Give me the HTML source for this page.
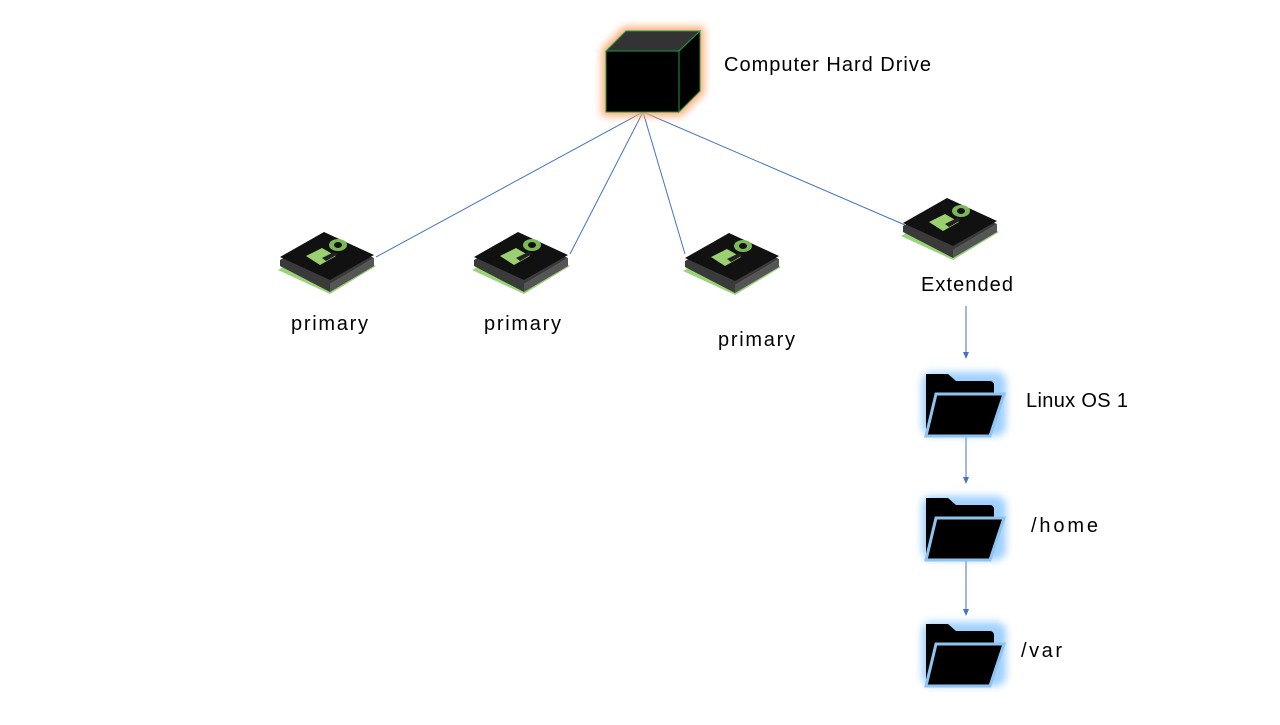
<!DOCTYPE html>
<html><head><style>
body{margin:0;width:1280px;height:720px;background:#fff;overflow:hidden}
text{font-family:"Liberation Sans",sans-serif;font-size:20px;fill:#000}
</style></head><body>
<svg width="1280" height="720" viewBox="0 0 1280 720">
<defs>
<filter id="og" x="-30%" y="-30%" width="160%" height="160%"><feGaussianBlur stdDeviation="4"/></filter>
<filter id="bg" x="-30%" y="-30%" width="160%" height="160%"><feGaussianBlur stdDeviation="4"/></filter>
<g id="chip">
<polygon points="-50,2 -4,-24 48,-2 2,26" fill="#8fcf6a" transform="translate(0,8)" opacity="0.9"/>
<polygon points="-48,0 -4,-24 46,-2 2,24 2,32 -48,6" fill="#3a3a3a"/>
<polygon points="2,24 46,-2 46,6 2,32" fill="#555"/>
<polygon points="-48,-3 -4,-28 46,-5 2,20" fill="#111"/>
<polygon points="-22,-4 -6,-12 8,-4 -8,5" fill="#9ad070"/>
<polygon points="-6,-2 6,-8 10,-6 -2,1" fill="#222"/>
<ellipse cx="10" cy="-15" rx="9" ry="6" fill="#7ab85a"/>
<ellipse cx="10" cy="-15" rx="4" ry="3" fill="#111"/>
</g>
<g id="folder">
<rect x="-40" y="-28" width="84" height="64" rx="10" fill="#9fd0ff" filter="url(#bg)"/>
<path d="M-36,-26 h22 l8,7 h34 a4,4 0 0 1 4,4 v44 h-68 z" fill="#000"/>
<path d="M-26,-6 h68 l-14,42 h-64 z" fill="#000" stroke="#8fc4f0" stroke-width="3"/>
</g>
<marker id="ar" markerWidth="8" markerHeight="8" refX="6" refY="4" orient="auto"><path d="M0,1 L7,4 L0,7 z" fill="#4472c4"/></marker>
</defs>
<g stroke="#4472c4" stroke-width="1" fill="none">
<line x1="643" y1="112" x2="376" y2="257"/>
<line x1="643" y1="112" x2="570" y2="254"/>
<line x1="643" y1="112" x2="685" y2="254"/>
<line x1="643" y1="112" x2="905" y2="225"/>
<line x1="966" y1="306" x2="966" y2="358" marker-end="url(#ar)"/>
<line x1="966" y1="436" x2="966" y2="483" marker-end="url(#ar)"/>
<line x1="966" y1="560" x2="966" y2="615" marker-end="url(#ar)"/>
</g>
<g>
<polygon points="602,49 624,27 704,27 704,93 681,116 602,116" fill="#ffa870" filter="url(#og)"/>
<polygon points="606,51 626,31 700,31 679,51" fill="#333" stroke="#1a9a4a" stroke-width="1"/>
<polygon points="679,51 700,31 700,91 679,112" fill="#000" stroke="#1a9a4a" stroke-width="1"/>
<rect x="606" y="51" width="73" height="61" fill="#000" stroke="#1a9a4a" stroke-width="1"/>
</g>
<use href="#chip" x="328" y="260"/>
<use href="#chip" x="522" y="260"/>
<use href="#chip" x="733" y="261"/>
<use href="#chip" x="951" y="226"/>
<use href="#folder" x="962" y="400"/>
<use href="#folder" x="962" y="524"/>
<use href="#folder" x="962" y="650"/>
<text x="724" y="71" textLength="207">Computer Hard Drive</text>
<text x="291" y="330" textLength="77">primary</text>
<text x="484" y="330" textLength="77">primary</text>
<text x="718" y="346" textLength="77">primary</text>
<text x="921" y="291" textLength="92">Extended</text>
<text x="1026" y="407" textLength="102">Linux OS 1</text>
<text x="1031" y="532" textLength="67">/home</text>
<text x="1021" y="657" textLength="41">/var</text>
</svg>
</body></html>
